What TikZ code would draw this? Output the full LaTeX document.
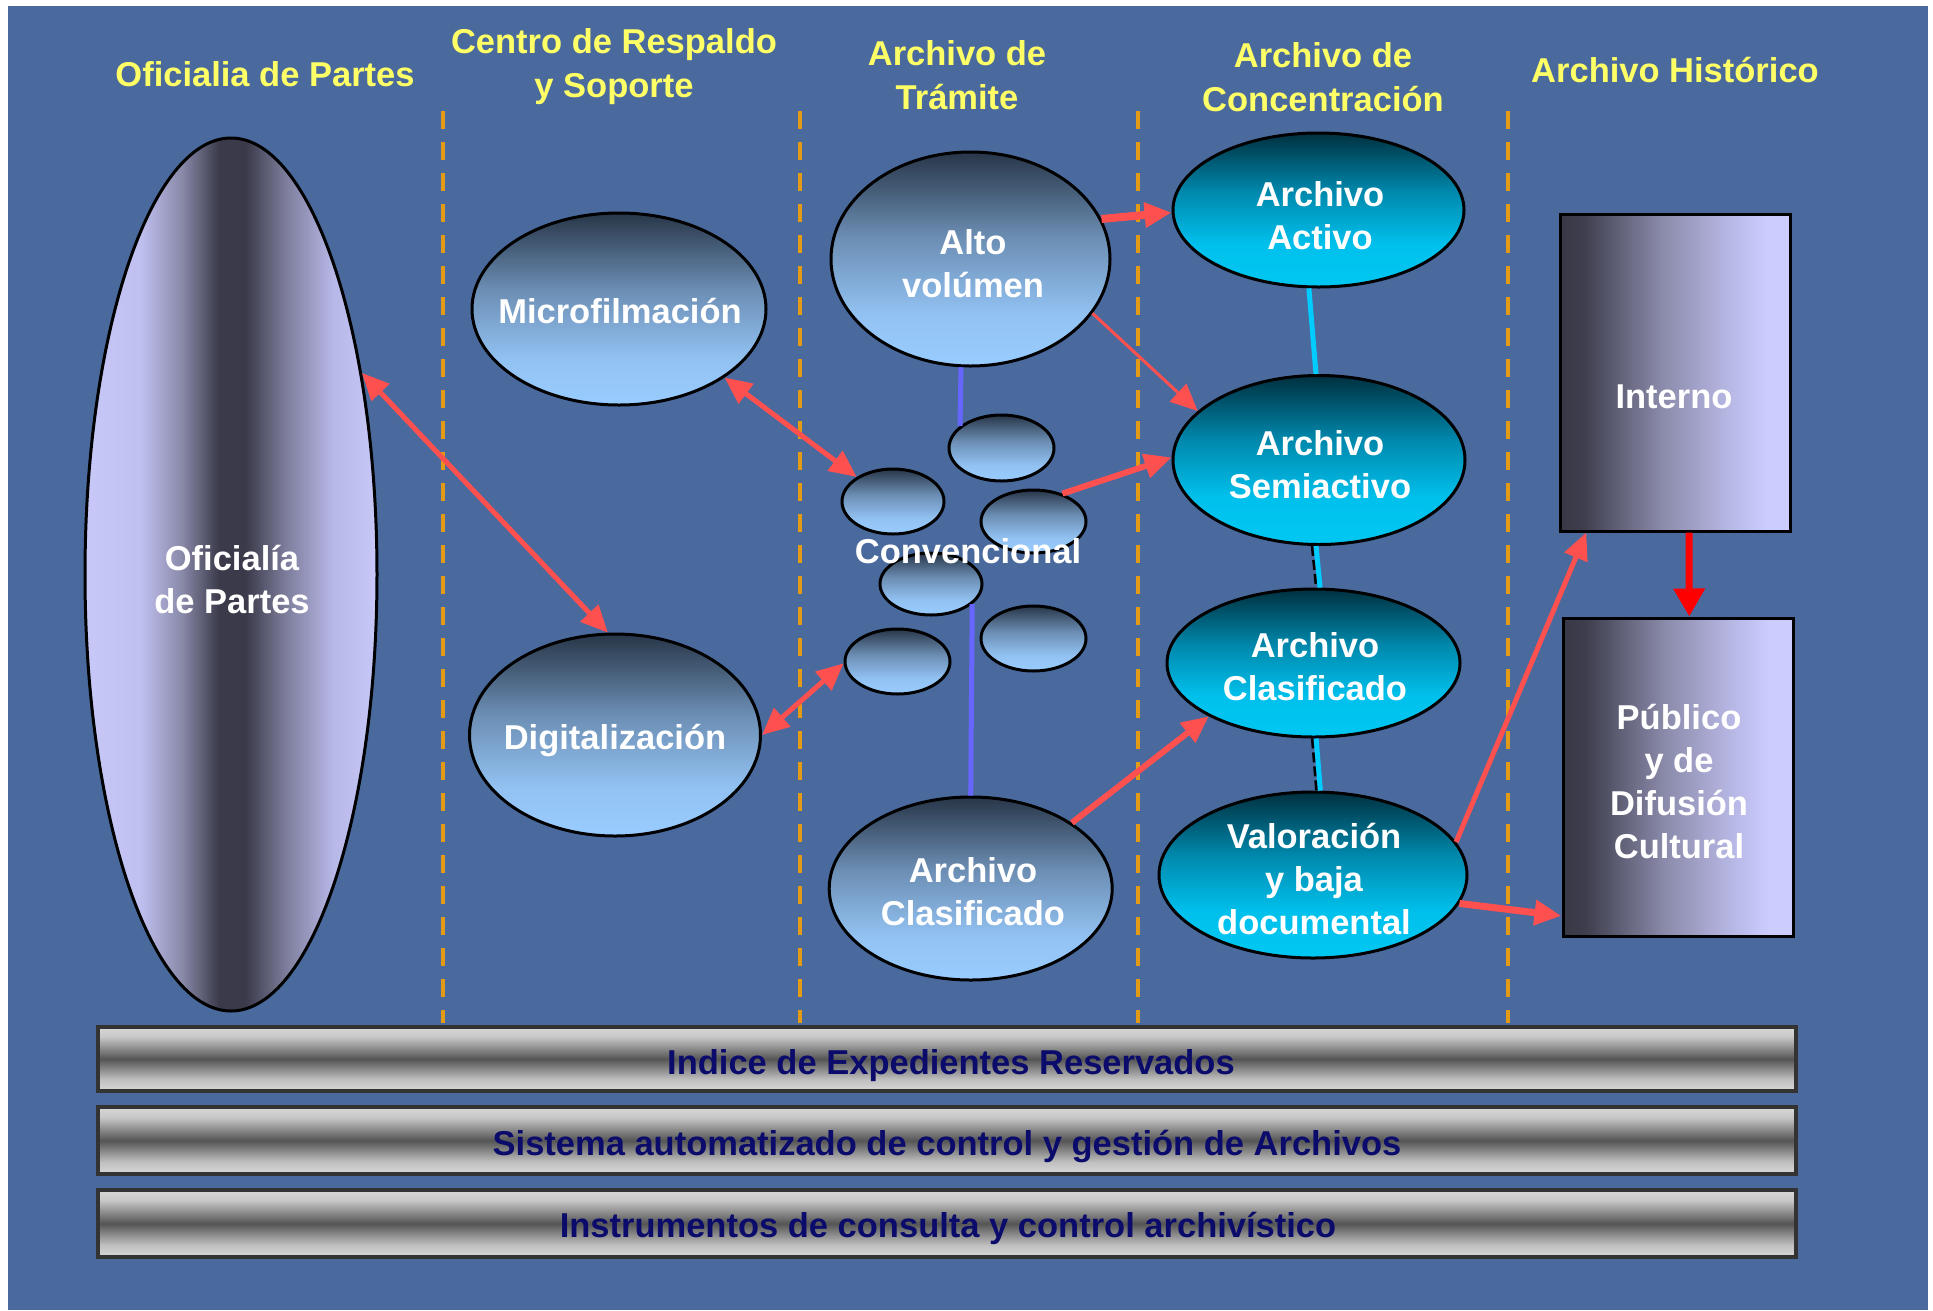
\documentclass[tikz,border=0pt]{standalone}
\usepackage{fontspec}
\setmainfont{Liberation Sans}
\usetikzlibrary{arrows.meta,shapes.geometric}
\definecolor{bg}{HTML}{4A6A9E}
\definecolor{ylw}{HTML}{FFFF66}
\definecolor{orng}{HTML}{E39B16}
\definecolor{redA}{HTML}{FF5050}
\definecolor{redB}{HTML}{FF0000}
\definecolor{bluL}{HTML}{6666FF}
\definecolor{cyL}{HTML}{00CCFF}
\definecolor{navy}{HTML}{0B0B6B}
% light blue ellipse shading
\definecolor{lbB}{HTML}{99CCFF}
\definecolor{lbB2}{HTML}{92C2F2}
\definecolor{lbM}{HTML}{6C8EB4}
\definecolor{lbT}{HTML}{283648}
\pgfdeclareverticalshading{lbshade}{100bp}{color(0bp)=(lbB); color(25bp)=(lbB); color(37bp)=(lbB2); color(55bp)=(lbM); color(75bp)=(lbT); color(100bp)=(lbT)}
% cyan ellipse shading
\definecolor{cyB}{HTML}{00C8F2}
\definecolor{cyB2}{HTML}{00C0EC}
\definecolor{cyM}{HTML}{0088AC}
\definecolor{cyT}{HTML}{00303F}
\pgfdeclareverticalshading{cyshade}{100bp}{color(0bp)=(cyB); color(25bp)=(cyB); color(39bp)=(cyB2); color(56bp)=(cyM); color(75bp)=(cyT); color(100bp)=(cyT)}
% oficialia shading (horizontal)
\definecolor{ofA}{HTML}{C8C8F8}
\definecolor{ofB}{HTML}{C0C0F0}
\definecolor{ofC}{HTML}{8A8AAA}
\definecolor{ofD}{HTML}{3A3A4A}
\definecolor{ofE}{HTML}{7A7A98}
\definecolor{ofF}{HTML}{B8B8E8}
\pgfdeclarehorizontalshading{ofshade}{100bp}{color(0bp)=(ofA); color(25bp)=(ofA); color(34.5bp)=(ofB); color(41.5bp)=(ofC); color(48bp)=(ofD); color(52.5bp)=(ofD); color(59bp)=(ofE); color(67.5bp)=(ofF); color(75bp)=(ofA); color(100bp)=(ofA)}
% box shading (horizontal)
\definecolor{bxA}{HTML}{383846}
\definecolor{bxB}{HTML}{3E3E4E}
\definecolor{bxC}{HTML}{8A8AAA}
\definecolor{bxD}{HTML}{B8B8E6}
\definecolor{bxE}{HTML}{CCCCFF}
\pgfdeclarehorizontalshading{bxshade}{100bp}{color(0bp)=(bxA); color(25bp)=(bxA); color(30bp)=(bxB); color(47bp)=(bxC); color(62bp)=(bxD); color(70bp)=(bxE); color(100bp)=(bxE)}
% bar shading (vertical)
\definecolor{brA}{HTML}{D8D8D8}
\definecolor{brB}{HTML}{C8C8C8}
\definecolor{brC}{HTML}{555555}
\definecolor{brD}{HTML}{C0C0C0}
\pgfdeclareverticalshading{brshade}{100bp}{color(0bp)=(brA); color(25bp)=(brA); color(34bp)=(brD); color(50bp)=(brC); color(67.5bp)=(brB); color(75bp)=(brA); color(100bp)=(brA)}

\tikzset{
  fnt/.style={font=\fontsize{34.5}{43}\selectfont\bfseries},
  ttl/.style={fnt, text=ylw, align=center, font=\fontsize{34.5}{44}\selectfont\bfseries, inner sep=0pt},
  wt/.style={fnt, text=white, align=center, inner sep=0pt},
  nv/.style={fnt, text=navy, inner sep=0pt},
  lbell/.style={ellipse, draw=black, line width=3pt, shade, shading=lbshade, inner sep=0pt},
  cyell/.style={ellipse, draw=black, line width=3pt, shade, shading=cyshade, inner sep=0pt},
  ofell/.style={ellipse, draw=black, line width=3pt, shade, shading=ofshade, inner sep=0pt},
  bxnode/.style={rectangle, draw=black, line width=3pt, shade, shading=bxshade, inner sep=0pt},
  barnode/.style={rectangle, draw=black!80, line width=4pt, shade, shading=brshade, inner sep=0pt, minimum width=1698pt},
  sep/.style={draw=orng, line width=4pt, dash pattern=on 18pt off 13pt},
  rarr/.style={draw=redA, -{Triangle[length=27pt,width=24pt]}},
  rdbl/.style={draw=redA, {Triangle[length=27pt,width=24pt]}-{Triangle[length=27pt,width=24pt]}},
  blin/.style={draw=bluL, line width=5pt},
  clin/.style={draw=cyL, line width=5pt},
  kdash/.style={draw=black, line width=2.5pt, dash pattern=on 10pt off 4pt},
}

\begin{document}
\begin{tikzpicture}[x=1pt,y=-1pt]
\useasboundingbox (0,0) rectangle (1933,1310);
\fill[bg] (8,6) rectangle (1928,1310);

% separators
\coordinate (s1a) at (443,111); \coordinate (s1b) at (443,1023);
\coordinate (s2a) at (800,111); \coordinate (s2b) at (800,1023);
\coordinate (s3a) at (1138,111); \coordinate (s3b) at (1138,1023);
\coordinate (s4a) at (1508,111); \coordinate (s4b) at (1508,1023);
\draw[sep] (s1a) -- (s1b);
\draw[sep] (s2a) -- (s2b);
\draw[sep] (s3a) -- (s3b);
\draw[sep] (s4a) -- (s4b);

% titles
\node[ttl] (t1) at (265,74) {Oficialia de Partes};
\node[ttl] (t2) at (614,66.6) {Centro de Respaldo\\y Soporte};
\node[ttl] (t3) at (957,75) {Archivo de\\Trámite};
\node[ttl] (t4) at (1323,77.5) {Archivo de\\Concentración};
\node[ttl] (t5) at (1675,70) {Archivo Histórico};

% shapes
\node[ofell, minimum width=292pt, minimum height=873pt] (ofi) at (231,574.5) {};
\node[wt] (ofiT) at (232,579.5) {Oficialía\\de Partes};

\node[lbell, minimum width=294pt, minimum height=192pt] (mic) at (619,309) {};
\node[wt] (micT) at (620,311) {Microfilmación};
\node[lbell, minimum width=291pt, minimum height=202pt] (dig) at (615,735) {};
\node[wt] (digT) at (615,740.6) {Digitalización};

\node[lbell, minimum width=279pt, minimum height=214pt] (alto) at (970.5,259) {};
\node[wt] (altoT) at (973,263.5) {Alto\\volúmen};

\node[lbell, minimum width=105pt, minimum height=66pt] (c1) at (1001.5,448) {};
\node[lbell, minimum width=102pt, minimum height=65pt] (c2) at (893,501.5) {};
\node[lbell, minimum width=105pt, minimum height=63pt] (c3) at (1033.5,521.5) {};
\node[lbell, minimum width=102pt, minimum height=62pt] (c4) at (931,584) {};
\node[lbell, minimum width=105pt, minimum height=65pt] (c5) at (1033.5,638.5) {};
\node[lbell, minimum width=105pt, minimum height=65pt] (c6) at (897.5,661.5) {};
\node[wt] (convT) at (968,551) {Convencional};

\node[lbell, minimum width=283pt, minimum height=183pt] (clasT) at (970.7,888.5) {};
\node[wt] (clasTT) at (973,891.5) {Archivo\\Clasificado};

\node[cyell, minimum width=291pt, minimum height=154pt] (act) at (1318.5,210) {};
\node[wt] (actT) at (1320,215.5) {Archivo\\Activo};
\node[cyell, minimum width=292pt, minimum height=169pt] (semi) at (1319,460) {};
\node[wt] (semiT) at (1320,465) {Archivo\\Semiactivo};
\node[cyell, minimum width=293pt, minimum height=148pt] (clasC) at (1313.5,663) {};
\node[wt] (clasCT) at (1315,667) {Archivo\\Clasificado};
\node[cyell, minimum width=308pt, minimum height=166pt] (val) at (1313,875) {};
\node[wt] (valT) at (1314,879.5) {Valoración\\y baja\\documental};

\node[bxnode, minimum width=230pt, minimum height=317pt] (int) at (1675,372.5) {};
\node[wt] (intT) at (1674,397) {Interno};
\node[bxnode, minimum width=230pt, minimum height=318pt] (pub) at (1678,777) {};
\node[wt] (pubT) at (1679,781.5) {Público\\y de\\Difusión\\Cultural};

% bars
\node[barnode, minimum height=64pt] (bar1) at (947,1059) {};
\node[nv] (bar1T) at (951,1066) {Indice de Expedientes Reservados};
\node[barnode, minimum height=67pt] (bar2) at (947,1140.5) {};
\node[nv] (bar2T) at (947,1146) {Sistema automatizado de control y gestión de Archivos};
\node[barnode, minimum height=67pt] (bar3) at (947,1223.5) {};
\node[nv] (bar3T) at (948,1228.5) {Instrumentos de consulta y control archivístico};

% blue links
\draw[blin] (alto.265.3) -- (c1.152);
\draw[blin] (c4.-26) -- (clasT.90);

% cyan links
\draw[clin] (act.263) -- (semi.92);
\draw[clin] (semi.268.7) -- (clasC.85);
\draw[kdash, transform canvas={xshift=-4pt}] (semi.268.7) -- (clasC.85);
\draw[clin] (clasC.272.7) -- (val.85.2);
\draw[kdash, transform canvas={xshift=-4pt}] (clasC.272.7) -- (val.85.2);

% red connectors
\draw[rdbl, line width=5pt] (ofi.57.5) -- (dig.94.6);
\draw[rdbl, line width=5pt] (mic.-33.8) -- (c2.146);
\draw[rdbl, line width=5pt] (dig.0) -- (c6.182);
\draw[rarr, line width=8pt] (alto.17.6) -- (act.181);
\draw[rarr, line width=3pt] (alto.-24.1) -- (semi.158.1);
\draw[rarr, line width=6pt] (c3.44) -- (semi.179);
\draw[rarr, line width=6pt] (clasT.33.4) -- (clasC.207.8);
\draw[rarr, line width=5pt] (val.13) -- (int.241.8);
\draw[rarr, line width=7pt] (val.-11.5) -- (pub.230.4);
\draw[draw=redB, line width=7pt, -{Triangle[length=28pt,width=30pt]}] (int.-85.3) -- (pub.86.9);
\end{tikzpicture}
\end{document}
